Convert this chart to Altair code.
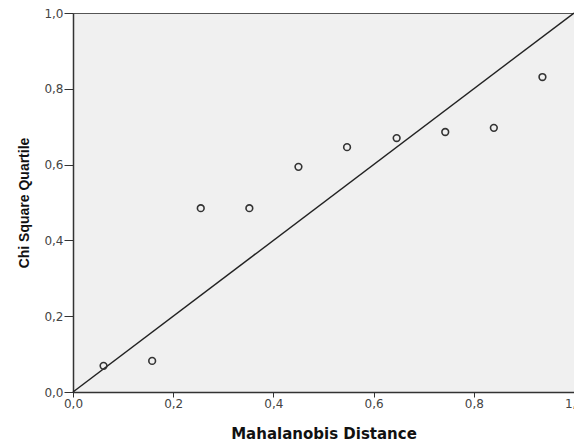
import altair as alt
import pandas as pd

mahalanobis = [0.061, 0.158, 0.255, 0.352, 0.450, 0.547, 0.646, 0.743, 0.840, 0.937]
chi_square = [0.069, 0.082, 0.485, 0.485, 0.594, 0.646, 0.670, 0.686, 0.697, 0.831]
ref_x = [0.0, 1.0]
ref_y = [0.0, 1.0]
ticks = [0.0, 0.2, 0.4, 0.6, 0.8, 1.0]

pts = pd.DataFrame({"x": mahalanobis, "y": chi_square})
ref = pd.DataFrame({"x": ref_x, "y": ref_y})

lab = "replace(format(datum.value, '.1f'), '.', ',')"
xs = alt.Scale(domain=[0, 1], nice=False, zero=False)
ys = alt.Scale(domain=[0, 1], nice=False, zero=False)

xaxis = alt.Axis(values=ticks, labelExpr=lab, grid=False, title="Mahalanobis Distance",
                 titleFont="DejaVu Sans", titleFontSize=15, titleFontWeight="bold",
                 titleColor="#111", titlePadding=17,
                 labelFont="DejaVu Sans", labelFontSize=12, labelColor="#444",
                 tickSize=5, tickColor="#333", domainColor="#333", domainWidth=1.5,
                 labelPadding=1, labelFlush=False)
yaxis = alt.Axis(values=ticks, labelExpr=lab, grid=False, title="Chi Square Quartile",
                 titleFont="Liberation Sans", titleFontSize=14, titleFontWeight="bold",
                 titleColor="#111", titlePadding=12,
                 labelFont="DejaVu Sans", labelFontSize=12, labelColor="#444",
                 tickSize=9, tickColor="#333", domainColor="#333", domainWidth=1.5,
                 labelPadding=1, labelFlush=False)

line = alt.Chart(ref).mark_line(color="#222", strokeWidth=1.5).encode(
    x=alt.X("x:Q", scale=xs, axis=xaxis),
    y=alt.Y("y:Q", scale=ys, axis=yaxis),
)
points = alt.Chart(pts).mark_point(shape="circle", filled=False, color="#333",
                                   size=45, strokeWidth=1.6, opacity=1).encode(
    x=alt.X("x:Q", scale=xs),
    y=alt.Y("y:Q", scale=ys),
)

chart = alt.layer(line, points).properties(
    width=501, height=379,
    background="white",
    autosize=alt.AutoSizeParams(type="none"),
    padding={"left": 65, "top": 5, "right": 0, "bottom": 52},
).configure_view(
    fill="#F0F0F0", stroke="#555", strokeWidth=1
)

chart.save("out.html", embed_options={"renderer": "svg", "actions": False})
